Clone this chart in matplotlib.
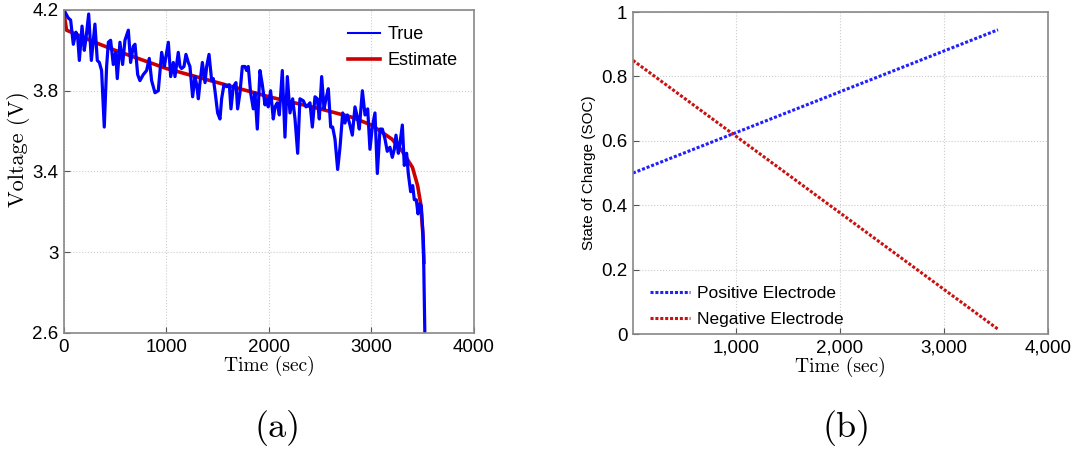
import matplotlib
matplotlib.use("Agg")
import matplotlib.pyplot as plt
import numpy as np

true_time = [0, 10, 42, 65, 91, 117, 133, 150, 176, 198, 215, 241, 267, 302, 325, 345, 367, 393,
             416, 433, 455, 481, 504, 520, 546, 572, 595, 628, 650, 676, 693, 719, 741, 774, 806,
             832, 855, 888, 920, 953, 979, 1018, 1041, 1067, 1083, 1115, 1132, 1148, 1171, 1190,
             1213, 1229, 1255, 1278, 1294, 1311, 1327, 1350, 1376, 1392, 1415, 1441, 1457, 1473,
             1499, 1522, 1538, 1561, 1587, 1613, 1629, 1652, 1678, 1694, 1717, 1740, 1766, 1782,
             1798, 1821, 1847, 1863, 1886, 1912, 1935, 1961, 1977, 1993, 2016, 2042, 2059, 2081,
             2101, 2130, 2156, 2179, 2205, 2231, 2254, 2280, 2302, 2335, 2361, 2384, 2400, 2423,
             2449, 2471, 2491, 2514, 2537, 2556, 2579, 2602, 2621, 2644, 2670, 2693, 2719, 2741,
             2764, 2790, 2813, 2839, 2862, 2881, 2911, 2937, 2963, 2985, 3008, 3034, 3057, 3083,
             3106, 3132, 3154, 3180, 3203, 3223, 3239, 3262, 3278, 3301, 3320, 3343, 3359, 3382,
             3402, 3418, 3437, 3454, 3470, 3486, 3506, 3522]
true_volt = [4.20, 4.19, 4.16, 4.15, 4.03, 4.09, 4.07, 3.95, 4.12, 4.00, 4.06, 4.18, 3.95, 4.13,
             3.95, 3.94, 3.90, 3.62, 3.92, 4.04, 4.05, 3.93, 3.99, 3.86, 4.04, 3.93, 4.05, 4.10,
             3.94, 4.02, 4.03, 3.88, 3.85, 3.88, 3.90, 3.96, 3.85, 3.79, 3.80, 3.99, 3.92, 4.04,
             3.87, 3.94, 3.87, 3.99, 3.92, 3.91, 3.92, 3.98, 3.94, 3.92, 3.77, 3.87, 3.83, 3.76,
             3.84, 3.94, 3.84, 3.92, 3.98, 3.85, 3.86, 3.80, 3.69, 3.66, 3.76, 3.83, 3.82, 3.83,
             3.71, 3.82, 3.84, 3.71, 3.79, 3.92, 3.92, 3.90, 3.92, 3.79, 3.71, 3.79, 3.61, 3.90,
             3.83, 3.73, 3.76, 3.72, 3.80, 3.66, 3.72, 3.74, 3.68, 3.90, 3.57, 3.87, 3.69, 3.76,
             3.66, 3.49, 3.76, 3.75, 3.72, 3.73, 3.74, 3.62, 3.77, 3.76, 3.66, 3.87, 3.71, 3.76,
             3.81, 3.62, 3.62, 3.56, 3.41, 3.52, 3.69, 3.64, 3.68, 3.63, 3.58, 3.72, 3.67, 3.61,
             3.80, 3.68, 3.71, 3.51, 3.62, 3.69, 3.39, 3.61, 3.61, 3.56, 3.50, 3.52, 3.47, 3.51,
             3.58, 3.49, 3.54, 3.63, 3.43, 3.49, 3.39, 3.30, 3.33, 3.26, 3.26, 3.19, 3.24, 3.23,
             3.06, 2.55]

# (a) model estimate
est_time = [0, 10, 25, 300, 500, 1000, 1500, 2000, 2500, 2800, 3000, 3200, 3300, 3400, 3450,
            3480, 3500, 3512]
est_volt = [4.20, 4.15, 4.10, 4.04, 4.00, 3.91, 3.84, 3.77, 3.71, 3.67, 3.63, 3.56, 3.50, 3.42,
            3.33, 3.24, 3.10, 2.95]

# (b) electrode state of charge
soc_time = [10, 3520]
soc_pos = [0.50, 0.945]
soc_neg = [0.85, 0.015]

tick_font = "Liberation Sans"
grid_kw = dict(color="#cccccc", linestyle=":", linewidth=0.8)

fig = plt.figure(figsize=(10.77, 4.49), dpi=100)

# ---- panel (a)
ax1 = fig.add_axes([0.0594, 0.2584, 0.3807, 0.7194])
ax1.plot(true_time, true_volt, color="#0000ff", lw=2.3, label="True")
ax1.plot(est_time, est_volt, color="#cc0000", lw=2.6, label="Estimate", zorder=1)
ax1.set_xlim(0, 4000)
ax1.set_ylim(2.6, 4.2)
ax1.set_xticks([0, 1000, 2000, 3000, 4000])
ax1.set_yticks([2.6, 3.0, 3.4, 3.8, 4.2])
ax1.set_yticklabels(["2.6", "3", "3.4", "3.8", "4.2"])
ax1.set_xlabel("Time (sec)", fontname="cmr10", fontsize=14, labelpad=0)
ax1.set_ylabel("Voltage (V)", fontname="cmr10", fontsize=16)
ax1.yaxis.set_label_coords(-0.083, 0.57)
leg = ax1.legend(loc="upper right", frameon=False, handlelength=1.8, handletextpad=0.4,
                 prop={"family": tick_font, "size": 13})
leg.get_lines()[0].set_linewidth(1.5)

# ---- panel (b)
ax2 = fig.add_axes([0.5877, 0.2561, 0.3853, 0.717])
ax2.plot(soc_time, soc_pos, color="#2020ff", lw=2.2, linestyle=(0, (1, 0.6)),
         label="Positive Electrode")
ax2.plot(soc_time, soc_neg, color="#cc1010", lw=2.2, linestyle=(0, (1, 0.6)),
         label="Negative Electrode")
ax2.set_xlim(10, 4000)
ax2.set_ylim(0, 1)
ax2.set_xticks([1000, 2000, 3000, 4000])
ax2.set_xticklabels(["1,000", "2,000", "3,000", "4,000"])
ax2.set_yticks([0, 0.2, 0.4, 0.6, 0.8, 1.0])
ax2.set_yticklabels(["0", "0.2", "0.4", "0.6", "0.8", "1"])
ax2.set_xlabel("Time (sec)", fontname="cmr10", fontsize=14, labelpad=0)
ax2.set_ylabel("State of Charge (SOC)", fontname=tick_font, fontsize=11, labelpad=4)
ax2.legend(loc="lower left", frameon=False, handlelength=2.3, handletextpad=0.4,
           labelspacing=0.6, borderaxespad=0.3, bbox_to_anchor=(0.012, -0.015),
           prop={"family": tick_font, "size": 12.5})

for ax in (ax1, ax2):
    ax.grid(True, **grid_kw)
    ax.set_axisbelow(True)
    ax.tick_params(direction="in", length=4, color="#555555", labelsize=13.5, pad=4)
    for lab in ax.get_xticklabels() + ax.get_yticklabels():
        lab.set_fontname(tick_font)
    for sp in ax.spines.values():
        sp.set_color("#888888")
        sp.set_linewidth(1.2)

fig.text(0.2577, 0.047, "(a)", fontname="cmr10", fontsize=26, ha="center", va="center")
fig.text(0.7865, 0.047, "(b)", fontname="cmr10", fontsize=26, ha="center", va="center")

fig.savefig("out.png", dpi=100)
